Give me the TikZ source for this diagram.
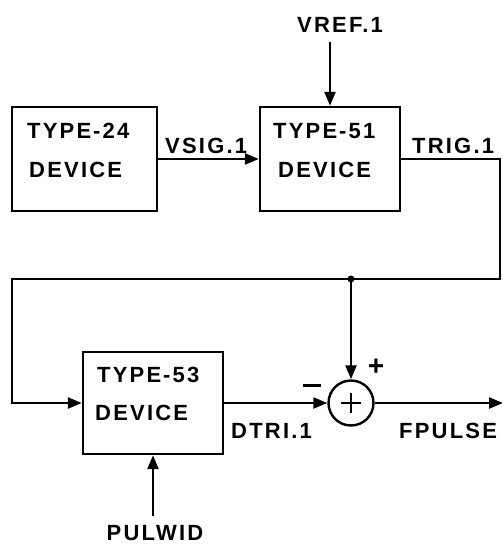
\documentclass[tikz,border=0pt]{standalone}
\usepackage{fontspec}
\newfontfamily\lett[LetterSpace=10]{Liberation Sans}
\usetikzlibrary{arrows.meta}
\begin{document}
\begin{tikzpicture}[x=1pt,y=-1pt,line width=2.4pt,
  box/.style={draw,rectangle,inner sep=0pt,line width=2.4pt},
  tip/.style={-{Triangle[length=14pt,width=11pt]}},
  txt/.style={font=\lett\bfseries\fontsize{22}{22}\selectfont,inner sep=0pt,anchor=base west},
  ctxt/.style={font=\lett\bfseries\fontsize{22}{22}\selectfont,inner sep=0pt,anchor=base}]
\useasboundingbox (0,0) rectangle (503,546);
% blocks
\node[box,minimum width=145pt,minimum height=104pt] (b24) at (84.5,159) {};
\node[box,minimum width=140pt,minimum height=104pt] (b51) at (330,159) {};
\node[box,minimum width=140pt,minimum height=102pt] (b53) at (153,403) {};
\node[draw,circle,minimum size=45pt,inner sep=0pt,line width=2.4pt] (sum) at (351,403) {};
\draw[line width=2.2pt] (sum.center) ++(-10,0) -- ++(20,0);
\draw[line width=2.2pt] (sum.center) ++(0,-10) -- ++(0,20);
% block texts
\node[txt] (t24a) at (26,138) {TYPE\kern2pt-\kern2pt24};
\node[txt] (t24b) at (28,177) {DEVICE};
\node[txt] (t51a) at (272,138) {TYPE\kern2pt-\kern2pt51};
\node[txt] (t51b) at (277,177) {DEVICE};
\node[txt] (t53a) at (96,382) {TYPE\kern2pt-\kern2pt53};
\node[txt] (t53b) at (94,420) {DEVICE};
% signal labels
\node[ctxt] (lvref) at (340,32) {VREF.1};
\node[txt] (lvsig) at (164,153) {VSIG.1};
\node[txt] (ltrig) at (411,153) {TRIG.1};
\node[txt] (ldtri) at (230,438) {DTRI.1};
\node[txt] (lfp) at (398,438) {FPULSE};
\node[ctxt] (lpul) at (155,540) {PULWID};
\node[inner sep=0pt] (minus) at (312,385) {\rule{18pt}{3pt}};
\node[font=\lett\bfseries\fontsize{28}{28}\selectfont,inner sep=0pt] (plus) at (376,367) {+};
% coordinates
\coordinate (vref) at (330,42);
\coordinate (rt) at (500,279);
\coordinate (lt) at (12,279);
\coordinate (j) at (351,279);
\coordinate (out) at (503,403);
\coordinate (pul) at (153,516);
% connectors
\draw[tip] (vref) -- (b51.north);
\draw[tip] (b24.east) -- (b51.west);
\draw[tip] (b51.east) -| (rt) -- (lt) |- (b53.west);
\fill (j) circle (3.5pt);
\draw[tip] (j) -- (sum.north);
\draw[tip] (b53.east) -- (sum.west);
\draw[tip] (sum.east) -- (out);
\draw[tip] (pul) -- (b53.south);
\end{tikzpicture}
\end{document}
